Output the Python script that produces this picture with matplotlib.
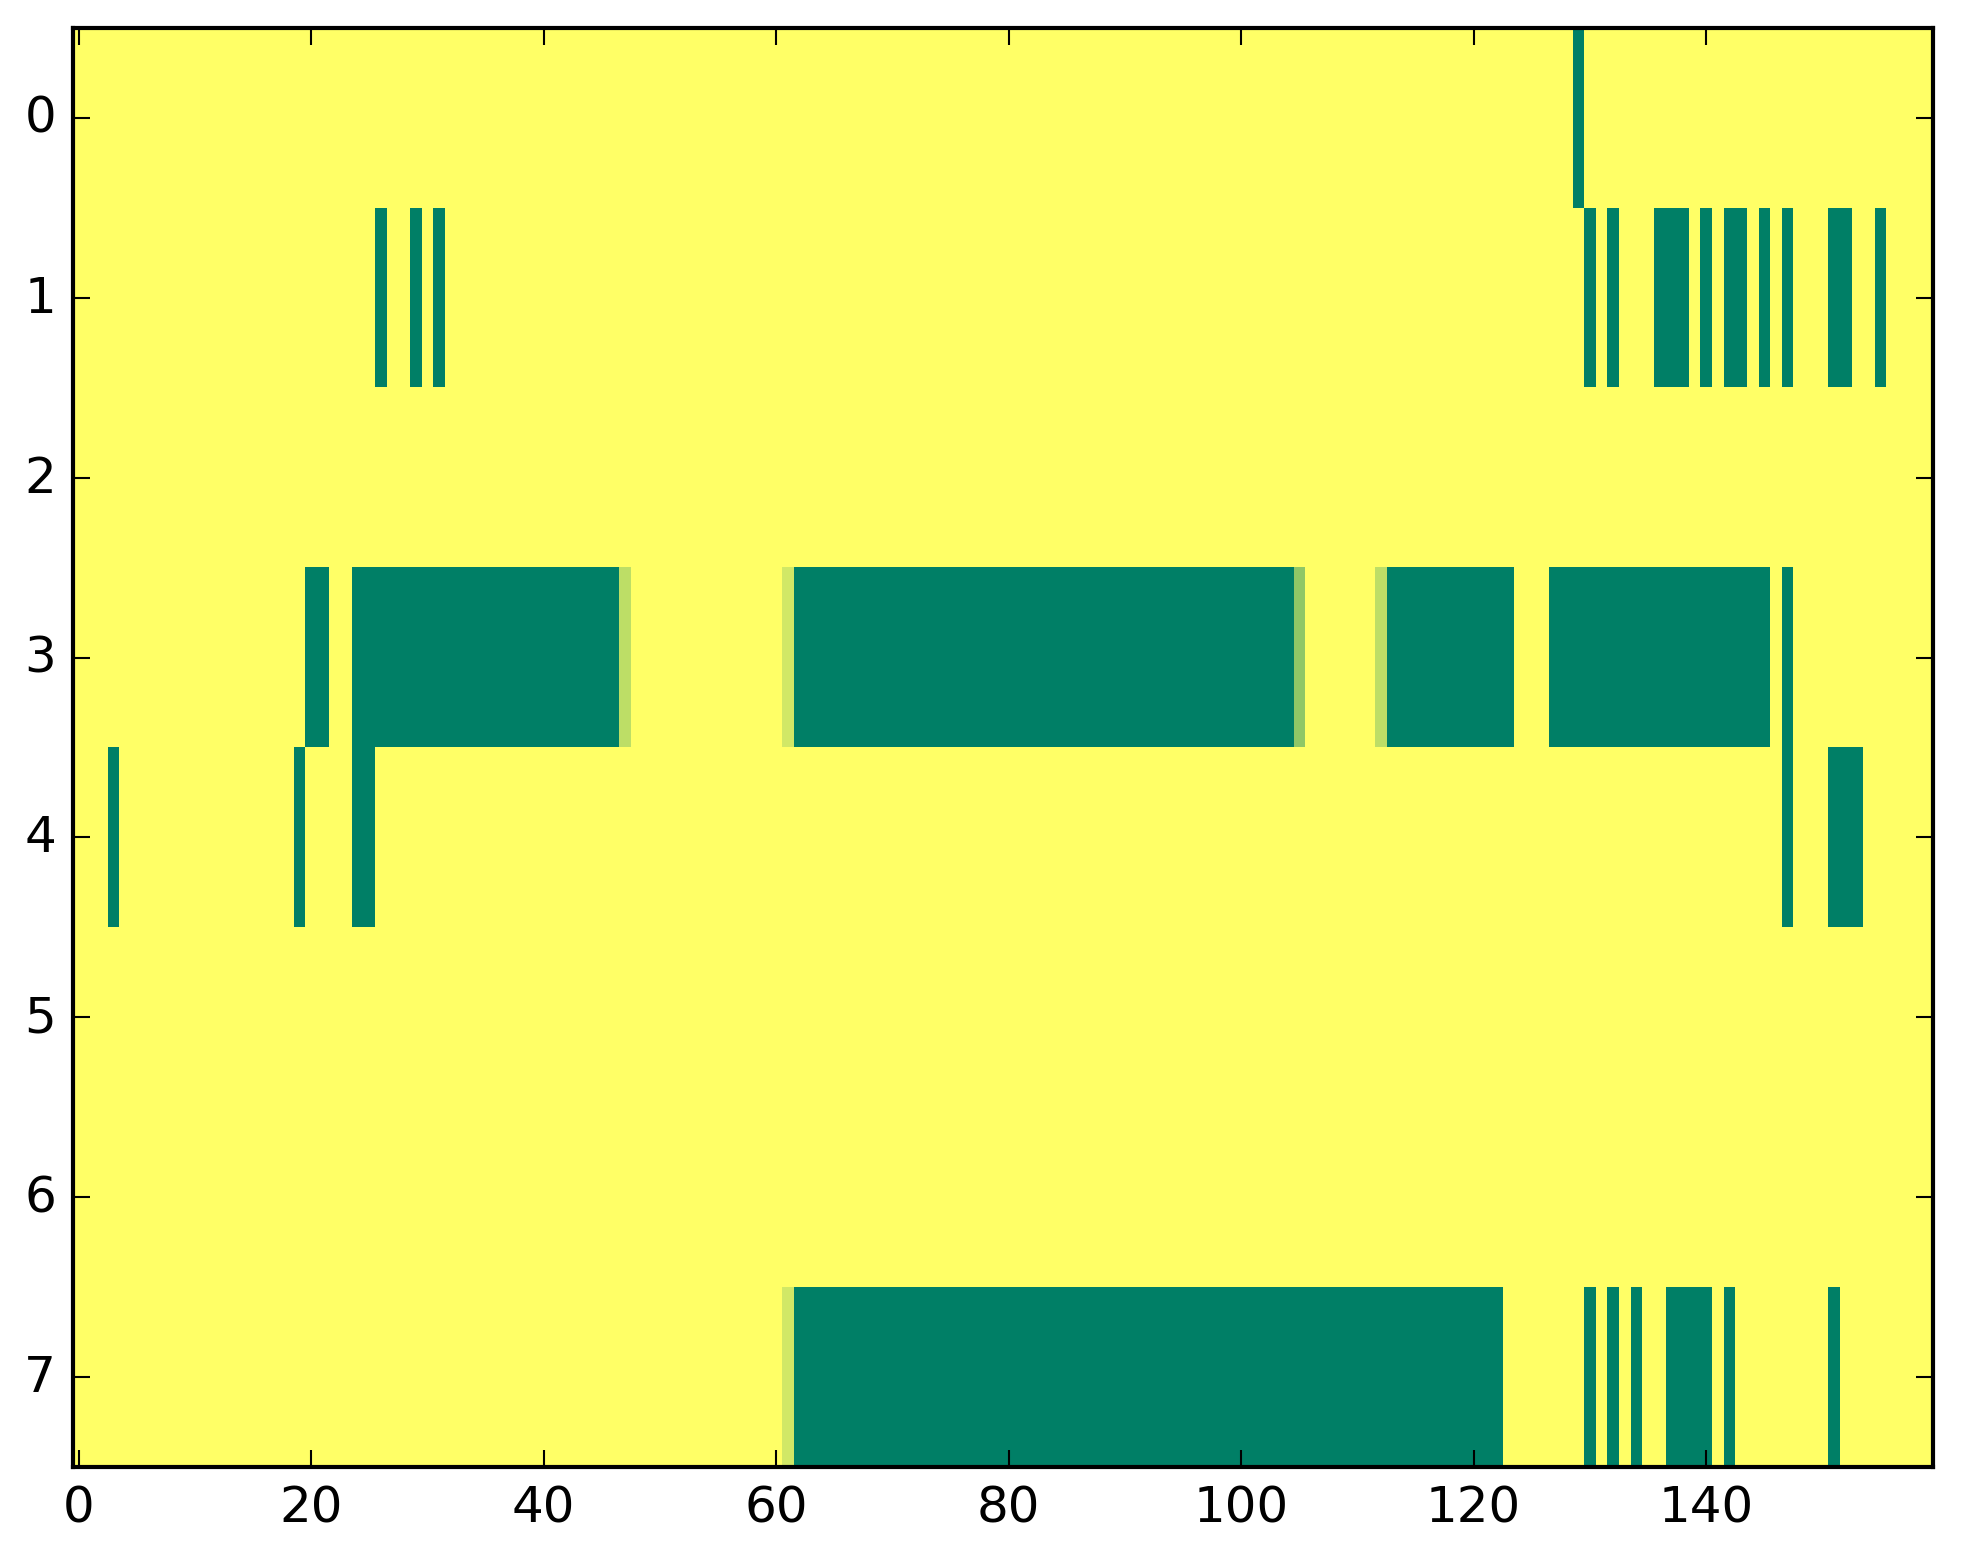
import numpy as np
import matplotlib
matplotlib.use('Agg')
import matplotlib.pyplot as plt

plt.style.use('classic')

N_ROWS = 8
N_COLS = 160

# runs of "off" cells per row: (first column, last column), inclusive
row0_off = [(129, 129)]
row1_off = [(26, 26), (29, 29), (31, 31), (130, 130), (132, 132), (136, 138),
            (140, 140), (142, 143), (145, 145), (147, 147), (151, 152), (155, 155)]
row2_off = []
row3_off = [(20, 21), (24, 46), (62, 104), (113, 123), (127, 145), (147, 147)]
row4_off = [(3, 3), (19, 19), (24, 25), (147, 147), (151, 153)]
row5_off = []
row6_off = []
row7_off = [(62, 122), (130, 130), (132, 132), (134, 134), (137, 140),
            (142, 142), (151, 151)]

# cells with an in-between value: (row, column, value)
partial_cells = [(3, 47, 0.74), (3, 61, 0.82), (3, 105, 0.56), (3, 112, 0.74),
                 (7, 61, 0.82)]

all_off = [row0_off, row1_off, row2_off, row3_off,
           row4_off, row5_off, row6_off, row7_off]

grid = np.ones((N_ROWS, N_COLS))
for r, runs in enumerate(all_off):
    for a, b in runs:
        grid[r, a:b + 1] = 0.0
for r, c, v in partial_cells:
    grid[r, c] = v

fig = plt.figure(figsize=(1963 / 300, 1564 / 300), dpi=300, facecolor='white')
ax = fig.add_axes([72.7 / 1963, 1 - 1468 / 1564, (1932.7 - 72.7) / 1963, (1468 - 29) / 1564])
ax.imshow(grid, cmap='summer', vmin=0, vmax=1, aspect='auto', interpolation='nearest')
ax.set_xticks(range(0, 160, 20))
ax.set_yticks(range(0, 8))
ax.set_xlim(-0.5, N_COLS - 0.5)
ax.set_ylim(N_ROWS - 0.5, -0.5)

fig.savefig('out.png', dpi=300, facecolor='white')
